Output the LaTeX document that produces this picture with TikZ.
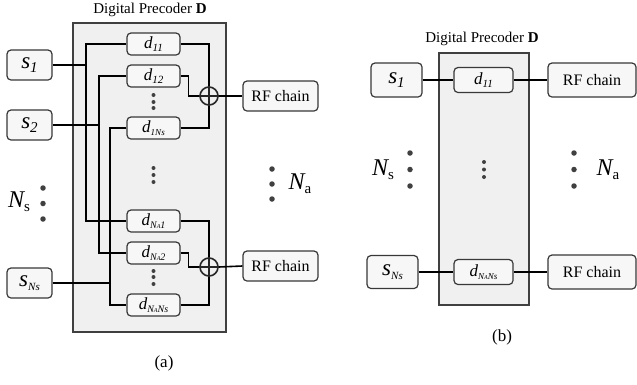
\documentclass[tikz,border=0pt]{standalone}
\usepackage{fontspec}
\setmainfont{Liberation Serif}
\newcommand{\sz}[1]{\fontsize{#1}{#1}\selectfont}
\newcommand{\dlab}[2]{{\sz{17}\itshape d}\raisebox{-3.5pt}{\sz{#1}\itshape #2}}
\newcommand{\nA}{N{\sz{6}A}}
\newcommand{\slab}[2]{{\sz{23}\itshape s}\raisebox{-4pt}{\sz{#1}\itshape #2}}
\newcommand{\Nlab}[1]{{\sz{24}\itshape N}\raisebox{-4pt}{\sz{15}#1}}
\begin{document}
\begin{tikzpicture}[x=1pt,y=-1pt,
  blk/.style={draw=black!78, line width=1.2pt, rounded corners=4pt, fill=black!3, inner sep=0pt, align=center},
  sbox/.style={blk, minimum width=45pt, minimum height=30pt},
  dbox/.style={blk, minimum width=53pt, minimum height=22pt},
  rfbox/.style={blk, minimum width=75pt, minimum height=30pt, font=\sz{16}},
  precoder/.style={draw=black!75, line width=1.1pt, fill=black!6},
  wire/.style={line width=1.6pt, black},
  sumnode/.style={circle, draw=black!85, line width=1.6pt, minimum size=18pt, inner sep=0pt},
  bigdot/.style={circle, fill=black!75, inner sep=0pt, minimum size=5.5pt},
  smalldot/.style={circle, fill=black!75, inner sep=0pt, minimum size=4pt},
  ttl/.style={font=\sz{15}},
  sublabel/.style={font=\sz{17}}
]
\useasboundingbox (0,0) rectangle (637,384);

% ================= (a) =================
\node[ttl] (ta) at (150,10) {Digital Precoder \textbf{D}};
\path[precoder] (73,23) rectangle (226,332);

\node[sbox] (s1) at (29.5,65) {\slab{15}{1}};
\node[sbox] (s2) at (29.5,125) {\slab{15}{2}};
\node[sbox] (sN) at (29.5,283) {\slab{11}{Ns}};

\node[dbox] (d11) at (153.5,44) {\dlab{11}{11}};
\node[dbox] (d12) at (153.5,76) {\dlab{11}{12}};
\node[dbox] (d1N) at (153.5,128) {\dlab{9}{1Ns}};
\node[dbox] (dA1) at (153.5,221) {\dlab{10}{\nA 1}};
\node[dbox] (dA2) at (153.5,253) {\dlab{10}{\nA 2}};
\node[dbox] (dAN) at (153.5,305) {\dlab{10}{\nA Ns}};

\node[sumnode] (sum1) at (209,96) {};
\node[sumnode] (sum2) at (209,267) {};
\draw[line width=1.6pt, black!85] (sum1.north) -- (sum1.south) (sum1.west) -- (sum1.east);
\draw[line width=1.6pt, black!85] (sum2.north) -- (sum2.south) (sum2.west) -- (sum2.east);

\node[rfbox] (rf1) at (280.5,96) {RF chain};
\node[rfbox] (rf2) at (280.5,266) {RF chain};

\coordinate (v1) at (86,0);
\coordinate (v2) at (99,0);
\coordinate (v3) at (110,0);

\draw[wire] (d11.west) -- (d11.west -| v1) -- (dA1.west -| v1) -- (dA1.west);
\draw[wire] (d12.west) -- (d12.west -| v2) -- (dA2.west -| v2) -- (dA2.west);
\draw[wire] (d1N.west) -- (d1N.west -| v3) -- (dAN.west -| v3) -- (dAN.west);
\draw[wire] (s1.east) -- (s1.east -| v1);
\draw[wire] (s2.east) -- (s2.east -| v2);
\draw[wire] (sN.east) -- (sN.east -| v3);

\draw[wire] (d11.east) -| (sum1.north);
\draw[wire] (d12.east) -- ++(8,0) |- (sum1.west);
\draw[wire] (d1N.east) -| (sum1.south);
\draw[wire] (sum1.east) -- (rf1.west);

\draw[wire] (dA1.east) -| (sum2.north);
\draw[wire] (dA2.east) -- ++(8,0) |- (sum2.west);
\draw[wire] (dAN.east) -| (sum2.south);
\draw[wire] (sum2.east) -- (rf2.west);

% dots (a)
\foreach \y/\n in {95/a1,102/a2,108/a3} \node[smalldot] (dd\n) at (153.5,\y) {};
\foreach \y/\n in {168/b1,175/b2,182/b3} \node[smalldot] (dd\n) at (153.5,\y) {};
\foreach \y/\n in {271/c1,277/c2,284/c3} \node[smalldot] (dd\n) at (153.5,\y) {};
\foreach \y/\n in {188/1,203.5/2,219/3} \node[bigdot] (nsd\n) at (43,\y) {};
\foreach \y/\n in {169/1,184/2,199/3} \node[bigdot] (nad\n) at (272,\y) {};
\node (nsa) at (19,202) {\Nlab{s}};
\node (naa) at (300,184) {\Nlab{a}};
\node[sublabel] (capa) at (164,363) {(a)};

% ================= (b) =================
\node[ttl] (tb) at (482,39) {Digital Precoder \textbf{D}};
\path[precoder] (439,53) rectangle (529,305);

\node[blk, minimum width=51pt, minimum height=34pt] (bs1) at (396.5,80) {\slab{15}{1}};
\node[blk, minimum width=51pt, minimum height=33pt] (bsN) at (392.5,272) {\slab{11}{Ns}};
\node[blk, minimum width=59pt, minimum height=25pt] (bd11) at (483.5,80) {\dlab{11}{11}};
\node[blk, minimum width=59pt, minimum height=25pt] (bdAN) at (483.5,272) {\dlab{9}{\nA Ns}};
\node[blk, minimum width=88pt, minimum height=34pt, font=\sz{16}] (brf1) at (592,80) {RF chain};
\node[blk, minimum width=88pt, minimum height=34pt, font=\sz{16}] (brf2) at (592,272) {RF chain};

\draw[wire] (bs1.east) -- (bd11.west);
\draw[wire] (bd11.east) -- (brf1.west);
\draw[wire] (bsN.east) -- (bdAN.west);
\draw[wire] (bdAN.east) -- (brf2.west);

\foreach \y/\n in {153/1,169.5/2,186/3} \node[bigdot] (bnsd\n) at (410,\y) {};
\foreach \y/\n in {153/1,169.5/2,186/3} \node[bigdot] (bnad\n) at (574,\y) {};
\foreach \y/\n in {162/1,169.5/2,177/3} \node[smalldot] (bmd\n) at (484,\y) {};
\node (nsb) at (383,170) {\Nlab{s}};
\node (nab) at (608,170) {\Nlab{a}};
\node[sublabel] (capb) at (502,337) {(b)};
\end{tikzpicture}
\end{document}
